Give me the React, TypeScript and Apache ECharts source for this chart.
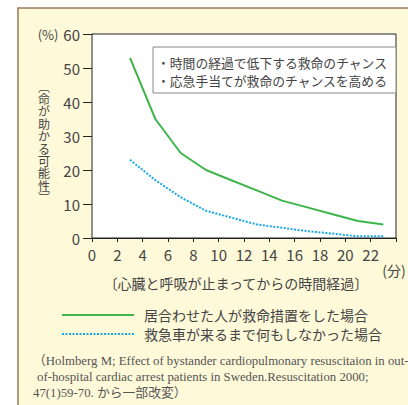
import React, { useEffect, useRef } from "react";
import * as echarts from "echarts";

const minutes = [3, 5, 7, 9, 11, 13, 15, 17, 19, 21, 23];
const bystanderCPR = [53, 35, 25, 20, 17, 14, 11, 9, 7, 5, 4];
const noAction = [23, 17, 12, 8, 6, 4, 3, 2, 1.3, 0.5, 0.5];

const seriesNames = ["居合わせた人が救命措置をした場合", "救急車が来るまで何もしなかった場合"];
const boxLines = ["・時間の経過で低下する救命のチャンス", "・応急手当てが救命のチャンスを高める"];
const yName = "︹命が助かる可能性︺";
const xName = "〔心臓と呼吸が止まってからの時間経過〕";
const citation = [
  "（Holmberg M; Effect of bystander cardiopulmonary resuscitaion in out-",
  "of-hospital cardiac arrest patients in Sweden.Resuscitation 2000;",
  "47(1)59-70. から一部改変）",
];
const citationIndent = [33, 37, 33];

const JP = "'Noto Sans CJK JP', 'Noto Sans', sans-serif";
const SERIF = "'Liberation Serif', 'DejaVu Serif', 'Noto Sans CJK JP', serif";
const TXT = "#444";

export default function App() {
  const ref = useRef<HTMLDivElement>(null);
  useEffect(() => {
    if (!ref.current) return;
    const chart = echarts.init(ref.current, undefined, { renderer: "svg" });
    chart.setOption({
      animation: false,
      backgroundColor: "#ffffff",
      textStyle: { fontFamily: JP },
      grid: {
        left: 92,
        right: 12,
        top: 34,
        bottom: 167,
        show: true,
        backgroundColor: "#ffffff",
        borderColor: "#222",
        borderWidth: 1,
        z: 1,
      },
      legend: {
        orient: "vertical",
        left: 56,
        top: 303,
        itemWidth: 72,
        itemHeight: 14,
        itemGap: 5,
        itemStyle: { opacity: 0 },
        textStyle: { fontSize: 14, color: TXT, fontFamily: JP, padding: [0, 0, 0, 5] },
        data: seriesNames,
      },
      xAxis: {
        type: "value",
        min: 0,
        max: 24,
        interval: 2,
        axisLine: { lineStyle: { color: "#222", width: 1 } },
        axisTick: { show: true, length: 4, lineStyle: { color: "#222" } },
        axisLabel: {
          fontSize: 15,
          color: TXT,
          margin: 9,
          formatter: (v: number) => (v >= 24 ? "" : String(v)),
        },
        splitLine: { show: false },
      },
      yAxis: {
        type: "value",
        min: 0,
        max: 60,
        interval: 10,
        axisLine: { show: true, lineStyle: { color: "#222", width: 1 } },
        axisTick: { show: true, length: 9, lineStyle: { color: "#222" } },
        axisLabel: { fontSize: 15, color: TXT, margin: 12 },
        splitLine: { show: true, lineStyle: { color: "#222", width: 1 } },
      },
      series: [
        {
          name: seriesNames[0],
          type: "line",
          data: minutes.map((m, i) => [m, bystanderCPR[i]]),
          symbol: "none",
          lineStyle: { color: "#3db54a", width: 2 },
          itemStyle: { color: "#3db54a" },
          z: 3,
        },
        {
          name: seriesNames[1],
          type: "line",
          data: minutes.map((m, i) => [m, noAction[i]]),
          symbol: "none",
          lineStyle: { color: "#1aa9e6", width: 2, type: [2, 1.5] },
          itemStyle: { color: "#1aa9e6" },
          z: 3,
        },
      ],
      graphic: [
        {
          type: "rect",
          z: -10,
          silent: true,
          shape: { x: 18, y: 8, width: 400, height: 410 },
          style: { fill: "#fef9d9", stroke: "#9c7b55", lineWidth: 1.5 },
        },
        {
          type: "rect",
          z: 10,
          shape: { x: 153, y: 47, width: 243, height: 46 },
          style: { fill: "#ffffff", stroke: "#888", lineWidth: 1 },
        },
        {
          type: "text",
          z: 11,
          x: 157,
          y: 62,
          style: { text: boxLines[0], fontSize: 12.8, fill: TXT, fontFamily: JP, textVerticalAlign: "middle" },
        },
        {
          type: "text",
          z: 11,
          x: 157,
          y: 80,
          style: { text: boxLines[1], fontSize: 12.8, fill: TXT, fontFamily: JP, textVerticalAlign: "middle" },
        },
        {
          type: "text",
          x: 48,
          y: 34,
          style: { text: "(%)", fontSize: 13, fill: TXT, fontFamily: JP, textAlign: "center", textVerticalAlign: "middle" },
        },
        ...yName.split("").map((ch, i) => ({
          type: "text",
          x: 44,
          y: 86 + i * 12.4,
          style: {
            text: ch,
            fontSize: 12,
            lineHeight: 12,
            fill: TXT,
            fontFamily: JP,
            textAlign: "center",
            textVerticalAlign: "middle",
          },
        })),
        {
          type: "text",
          x: 394,
          y: 270,
          style: { text: "(分)", fontSize: 14, fill: TXT, fontFamily: JP, textAlign: "center", textVerticalAlign: "middle" },
        },
        {
          type: "text",
          x: 236,
          y: 283,
          style: { text: xName, fontSize: 14, fill: TXT, fontFamily: JP, textAlign: "center", textVerticalAlign: "middle" },
        },
        ...citation.map((t, i) => ({
          type: "text",
          x: citationIndent[i],
          y: 361 + i * 16,
          style: { text: t, fontSize: 12.8, fill: "#555", fontFamily: SERIF, textVerticalAlign: "middle" },
        })),
      ],
    });
    return () => chart.dispose();
  }, []);
  return <div ref={ref} style={{ position: "fixed", left: 0, top: 0, width: 408, height: 405 }} />;
}
